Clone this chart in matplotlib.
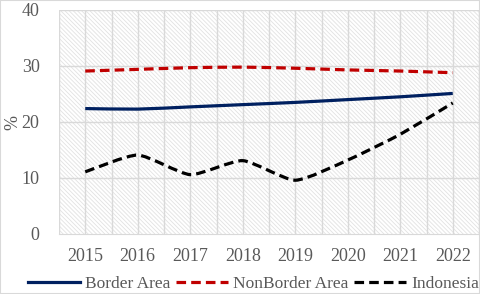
import matplotlib
matplotlib.use("Agg")
import matplotlib.pyplot as plt
import numpy as np
from matplotlib.path import Path
from matplotlib.patches import PathPatch, Rectangle
from matplotlib.lines import Line2D

years = ["2015", "2016", "2017", "2018", "2019", "2020", "2021", "2022"]
border = [22.4, 22.3, 22.7, 23.1, 23.5, 24.0, 24.5, 25.1]
nonborder = [29.1, 29.4, 29.7, 29.8, 29.6, 29.3, 29.1, 28.8]
indonesia = [11.1, 14.1, 10.6, 13.1, 9.6, 13.2, 17.8, 23.4]
yticks = [0, 10, 20, 30, 40]

plt.rcParams['font.family'] = ['Liberation Serif', 'DejaVu Serif']
plt.rcParams['hatch.linewidth'] = 0.6
plt.rcParams['hatch.color'] = '#e2e2e2'
txt = '#595959'
grid_c = '#d9d9d9'

fig = plt.figure(figsize=(4.8, 2.94), dpi=100)
ax = fig.add_axes([59/480, 1-234/294, 420/480, 224/294])

x = np.arange(len(years))
ax.set_xlim(-0.5, len(years) - 0.5)
ax.set_ylim(0, 40)

# hatched background
ax.add_patch(Rectangle((0, 0), 1, 1, transform=ax.transAxes, facecolor='white',
                       edgecolor='#e2e2e2', hatch='\\' * 8, linewidth=0, zorder=0))

for yv in yticks[1:]:
    ax.axhline(yv, color=grid_c, lw=1.0, zorder=1)
for xv in np.arange(-0.5, len(years), 0.5):
    ax.axvline(xv, color=grid_c, lw=1.0, zorder=1)


def smooth_path(xs, ys, k=10.0):
    xs = np.asarray(xs, float); ys = np.asarray(ys, float)
    P = np.column_stack([xs, ys])
    n = len(P)
    verts = [P[0]]
    codes = [Path.MOVETO]
    for i in range(n - 1):
        p0 = P[i - 1] if i > 0 else P[i]
        p1 = P[i]
        p2 = P[i + 1]
        p3 = P[i + 2] if i + 2 < n else P[i + 1]
        c1 = p1 + (p2 - p0) / k
        c2 = p2 - (p3 - p1) / k
        verts += [c1, c2, p2]
        codes += [Path.CURVE4] * 3
    return Path(verts, codes)

series = [
    (border, '#002060', '-', 'Border Area'),
    (nonborder, '#C00000', (0, (3, 1.6)), 'NonBorder Area'),
    (indonesia, '#000000', (0, (3, 1.6)), 'Indonesia'),
]
handles = []
for vals, col, ls, lab in series:
    pp = PathPatch(smooth_path(x, vals), facecolor='none', edgecolor=col,
                   lw=2.3, linestyle=ls, capstyle='butt', zorder=3)
    ax.add_patch(pp)
    handles.append(Line2D([0], [0], color=col, lw=2.3, linestyle=ls, label=lab))

ax.set_xticks(x)
ax.set_xticklabels(years)
ax.set_yticks(yticks)
ax.tick_params(axis='both', length=0, labelsize=13, colors=txt)
ax.tick_params(axis='x', pad=10)
ax.tick_params(axis='y', pad=14)
for s in ['top', 'right', 'left']:
    ax.spines[s].set_visible(False)
ax.spines['bottom'].set_color(grid_c)
ax.set_ylabel('%', fontsize=13, color=txt)
ax.yaxis.set_label_coords(-0.09, 0.5)

fig.legend(handles=handles, loc='lower center', bbox_to_anchor=(0.528, -0.03), ncol=3,
           frameon=False, fontsize=12.5, labelcolor=txt, handlelength=3.0,
           handletextpad=0.3, columnspacing=0.3, borderaxespad=0.2)

fig.add_artist(Rectangle((0, 0), 1, 1, transform=fig.transFigure, fill=False,
                         edgecolor='#d9d9d9', lw=1.5))

fig.savefig('out.png', dpi=100)
